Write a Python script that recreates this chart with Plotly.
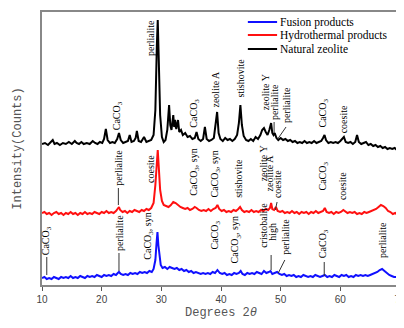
import plotly.graph_objects as go

# ---------------- data (intensity in arbitrary counts, offset stacked) -------------
black_x = [10.0,10.5,11.0,11.5,11.8,12.1,12.5,13.0,13.5,14.0,14.5,15.0,15.5,15.8,16.2,16.6,17.0,17.5,18.0,18.5,18.9,19.3,19.7,20.1,20.4,20.7,21.0,21.4,21.8,22.2,22.6,22.9,23.2,23.6,24.0,24.4,24.7,25.0,25.4,25.7,25.9,26.2,26.6,27.1,27.5,27.9,28.3,28.7,29.0,29.25,29.4,29.55,29.8,30.1,30.4,30.7,31.0,31.3,31.5,31.7,32.0,32.15,32.3,32.5,32.8,33.0,33.3,33.6,34.0,34.4,34.8,35.2,35.6,35.9,36.2,36.6,37.0,37.3,37.6,38.0,38.4,38.8,39.1,39.35,39.6,39.9,40.3,40.7,41.1,41.5,41.9,42.3,42.7,43.0,43.25,43.5,43.8,44.2,44.6,45.0,45.4,45.8,46.2,46.6,46.9,47.2,47.5,47.8,48.1,48.4,48.6,48.8,49.0,49.3,49.6,50.0,50.4,50.8,51.2,51.6,52.0,52.4,52.8,53.2,53.6,54.0,54.4,54.8,55.2,55.6,56.0,56.4,56.8,57.1,57.35,57.6,58.0,58.4,58.8,59.2,59.6,60.0,60.3,60.6,60.9,61.3,61.7,62.1,62.5,62.8,63.1,63.5,63.9,64.3,64.7,65.1,65.5,65.9,66.3,66.7,67.1,67.5,67.9,68.3,68.7,69.1,69.5,70.0]
black_y = [141,142,140,143,145,141,142,140,142,141,143,141,144,142,141,143,141,142,141,144,142,141,143,142,146,156,145,142,143,142,146,152,145,142,143,144,150,143,144,147,154,144,143,148,143,144,145,150,175,240,265,230,170,148,143,145,155,180,160,155,170,158,165,156,165,153,155,150,152,148,149,146,147,153,146,144,146,158,146,144,145,147,160,173,152,146,144,147,145,146,144,146,150,162,180,160,149,145,144,146,144,148,146,150,155,157,153,150,155,162,152,150,152,147,145,147,145,146,144,145,143,144,142,143,142,144,142,143,142,144,142,143,144,147,150,145,142,143,142,143,142,144,146,148,143,142,143,141,143,150,143,141,142,143,140,141,139,140,138,139,137,138,136,137,136,137,135,136]

red_x = [10.0,10.4,10.8,11.2,11.6,12.0,12.4,12.8,13.2,13.6,14.0,14.4,14.8,15.2,15.6,16.0,16.4,16.8,17.2,17.6,18.0,18.4,18.8,19.2,19.6,20.0,20.4,20.8,21.2,21.6,22.0,22.4,22.7,22.9,23.1,23.5,23.9,24.3,24.7,25.1,25.5,25.9,26.3,26.7,27.1,27.5,27.9,28.3,28.7,29.0,29.2,29.4,29.55,29.8,30.1,30.4,30.8,31.2,31.6,32.0,32.4,32.8,33.2,33.6,34.0,34.4,34.8,35.2,35.6,35.9,36.3,36.7,37.1,37.5,37.9,38.3,38.7,39.1,39.4,39.7,40.1,40.5,40.9,41.3,41.7,42.1,42.5,42.9,43.2,43.5,43.9,44.3,44.7,45.1,45.5,45.9,46.3,46.7,47.1,47.5,47.9,48.2,48.4,48.6,48.9,49.2,49.5,49.9,50.3,50.7,51.1,51.5,51.9,52.3,52.7,53.1,53.5,53.9,54.3,54.7,55.1,55.5,55.9,56.3,56.7,57.1,57.4,57.7,58.1,58.5,58.9,59.3,59.7,60.1,60.5,60.8,61.2,61.6,62.0,62.4,62.8,63.2,63.6,64.0,64.4,64.8,65.2,65.6,66.0,66.4,66.8,67.2,67.6,68.0,68.4,68.8,69.2,69.6,70.0]
red_y = [72,73,71,72,70,72,73,71,72,70,72,71,73,71,72,70,72,71,73,71,72,71,73,72,71,73,72,74,72,73,72,74,76,78,75,73,74,72,74,73,75,74,73,75,74,76,75,77,82,100,125,135,120,95,84,80,79,78,80,83,82,80,78,77,76,77,75,76,78,77,75,74,75,74,76,74,76,77,80,76,74,75,73,74,73,75,74,76,78,75,73,74,73,75,73,74,73,75,74,76,75,77,82,76,75,78,74,73,74,72,73,72,74,72,73,71,73,72,73,71,73,72,74,72,73,74,77,73,72,73,71,73,72,73,75,74,72,73,72,73,71,72,71,73,72,73,74,75,76,78,80,79,77,74,73,71,72,70,70]

blue_x = [10.0,10.4,10.8,11.2,11.6,12.0,12.4,12.8,13.2,13.6,14.0,14.4,14.8,15.2,15.6,16.0,16.4,16.8,17.2,17.6,18.0,18.4,18.8,19.2,19.6,20.0,20.4,20.8,21.2,21.6,22.0,22.4,22.7,22.9,23.2,23.6,24.0,24.4,24.8,25.2,25.6,26.0,26.4,26.8,27.2,27.6,28.0,28.4,28.7,29.0,29.2,29.35,29.5,29.7,29.9,30.2,30.6,31.0,31.4,31.8,32.2,32.6,33.0,33.4,33.8,34.2,34.6,35.0,35.4,35.8,36.2,36.6,37.0,37.4,37.8,38.2,38.6,39.0,39.4,39.8,40.2,40.6,41.0,41.4,41.8,42.2,42.6,43.0,43.3,43.6,44.0,44.4,44.8,45.2,45.6,46.0,46.4,46.8,47.2,47.6,48.0,48.3,48.6,49.0,49.4,49.8,50.2,50.6,51.0,51.4,51.8,52.2,52.6,53.0,53.4,53.8,54.2,54.6,55.0,55.4,55.8,56.2,56.6,57.0,57.4,57.8,58.2,58.6,59.0,59.4,59.8,60.2,60.6,61.0,61.4,61.8,62.2,62.6,63.0,63.4,63.8,64.2,64.6,65.0,65.4,65.8,66.2,66.6,67.0,67.4,67.8,68.2,68.6,69.0,69.4,70.0]
blue_y = [7,8,6,7,6,8,7,6,8,7,8,7,9,7,8,7,9,8,7,9,8,9,8,10,9,8,10,9,10,9,11,10,12,13,11,10,11,10,12,11,12,11,13,12,13,12,14,13,16,25,42,53,40,26,20,17,18,16,18,17,16,17,15,16,14,15,13,14,12,13,12,11,12,11,12,11,13,12,15,12,11,12,10,11,10,12,11,12,14,11,10,12,11,12,11,13,12,11,14,12,13,14,11,12,13,11,10,11,9,10,9,10,8,9,8,10,9,8,9,8,10,9,8,9,10,8,9,8,10,9,8,10,9,10,8,9,8,10,9,10,9,10,9,10,11,12,13,15,16,14,12,10,9,8,8,7]

x_ticks = [10, 20, 30, 40, 50, 60, 70]
series_names = ["Fusion products", "Hydrothermal products", "Natural zeolite"]

# phase labels: (text, x in degrees, y of label base)
labels = [
    ("CaCO<sub>3</sub>", 22.7, 153), ("perlialite", 28.1, 227), ("CaCO<sub>3</sub>", 35.5, 155),
    ("zeolite A", 39.0, 175), ("stishovite", 43.2, 185), ("zeolite Y", 47.4, 173),
    ("perlialite", 48.9, 163), ("perlialite", 50.9, 160), ("CaCO<sub>3</sub>", 57.1, 155),
    ("coesite", 60.5, 150),
    ("perlialite", 22.7, 97), ("coesite", 28.1, 100), ("CaCO<sub>3</sub>, syn", 35.5, 87),
    ("CaCO<sub>3</sub>, syn", 39.0, 85), ("stishovite", 42.9, 85), ("zeolite Y", 47.1, 102),
    ("zeolite A", 48.2, 92), ("coesite", 49.4, 85), ("CaCO<sub>3</sub>", 57.1, 92),
    ("coesite", 60.3, 83),
    ("CaCO<sub>3</sub>", 10.8, 28), ("perlialite", 22.9, 32), ("CaCO<sub>3</sub>, syn", 27.8, 23),
    ("CaCO<sub>3</sub>", 39.0, 33), ("CaCO<sub>3</sub>, syn", 42.5, 20), ("cristobalite", 47.1, 35),
    ("high", 48.5, 42), ("perlialite", 50.7, 28), ("CaCO<sub>3</sub>", 57.2, 25),
    ("perlialite", 67.0, 25),
]
# leader lines: (x0, y0, x1, y1)
leaders = [
    (48.9, 163, 48.9, 152), (50.9, 158, 49.5, 146),
    (22.8, 97, 22.8, 80), (49.4, 83, 49.1, 75),
    (10.8, 28, 10.8, 10), (22.9, 32, 22.9, 14), (48.4, 30, 48.4, 15),
    (50.7, 25, 49.6, 12), (57.3, 23, 57.3, 9),
]

colors = ["#1010ff", "#ff1010", "#000000"]

fig = go.Figure()
for xs, ys, c, n in [(blue_x, blue_y, colors[0], series_names[0]),
                     (red_x, red_y, colors[1], series_names[1]),
                     (black_x, black_y, colors[2], series_names[2])]:
    fig.add_trace(go.Scatter(x=xs, y=ys, mode="lines", name=n,
                             line=dict(color=c, width=2), showlegend=False))

serif = "Liberation Serif"
for t, x, y in labels:
    fig.add_annotation(x=x, y=y, text=t, showarrow=False, textangle=-90,
                       xanchor="center", yanchor="bottom",
                       font=dict(family=serif, size=10, color="black"))
for x0, y0, x1, y1 in leaders:
    fig.add_shape(type="line", x0=x0, y0=y0, x1=x1, y1=y1,
                  line=dict(color="#333333", width=1))

# legend drawn in the top-right corner
leg_y = [263, 250, 236]
for i in range(3):
    fig.add_shape(type="line", x0=44.5, x1=49.4, y0=leg_y[i], y1=leg_y[i],
                  line=dict(color=colors[i], width=2))
    fig.add_annotation(x=49.6, y=leg_y[i], text=series_names[i], showarrow=False,
                       xanchor="left", yanchor="middle",
                       font=dict(family=serif, size=11.5, color="black"))

# the page body adds an 8 px offset, so the figure is 8 px smaller and margins compensate
fig.update_layout(
    width=396, height=320,
    margin=dict(l=34, r=4, t=4, b=43),
    paper_bgcolor="white", plot_bgcolor="white",
    xaxis=dict(range=[10, 70], tickvals=x_ticks, ticks="outside", ticklen=4,
               tickcolor="#555", showline=True, linecolor="#888", linewidth=1.5,
               mirror=True, showgrid=False, zeroline=False, automargin=False,
               ticklabeloverflow="allow",
               tickfont=dict(family="Liberation Sans", size=10, color="#444"),
               title=dict(text="Degrees 2<i>θ</i>", standoff=4,
                          font=dict(family="Liberation Mono", size=12, color="#555"))),
    yaxis=dict(range=[0, 273], showticklabels=False, ticks="", showline=True,
               linecolor="#888", linewidth=1.5, mirror=True, showgrid=False, zeroline=False,
               automargin=False,
               title=dict(text="Intensity(Counts)", standoff=16,
                          font=dict(family="Liberation Mono", size=12, color="#555"))),
)
fig.write_html("out.html")
